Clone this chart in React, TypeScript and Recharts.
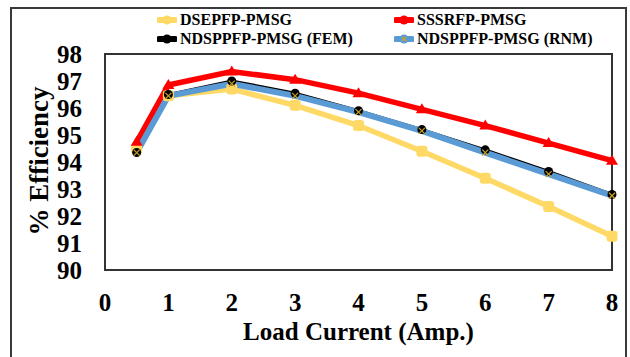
import { LineChart, Line, XAxis, YAxis, ReferenceArea } from 'recharts'

const loadCurrent = [0.5, 1, 2, 3, 4, 5, 6, 7, 8]
const dsepfp = [94.5, 96.45, 96.7, 96.1, 95.35, 94.4, 93.4, 92.35, 91.25]
const sssrfp = [94.75, 96.85, 97.35, 97.05, 96.55, 95.95, 95.35, 94.7, 94.05]
const ndsFem = [94.35, 96.5, 97.0, 96.55, 95.9, 95.2, 94.45, 93.65, 92.8]
const ndsRnm = [94.35, 96.45, 96.9, 96.45, 95.85, 95.15, 94.35, 93.55, 92.75]
const xTicks = [0, 1, 2, 3, 4, 5, 6, 7, 8]
const yTicks = [90, 91, 92, 93, 94, 95, 96, 97, 98]

const data = loadCurrent.map((x, i) => ({ x, a: dsepfp[i], b: sssrfp[i], c: ndsFem[i], d: ndsRnm[i] }))

const FONT = 'Liberation Serif'
const YEL = '#FFD966'
const RED = '#FF0000'
const BLU = '#5B9BD5'

type DotP = { cx?: number; cy?: number; index?: number }

const Square = ({ cx, cy, index }: DotP) =>
  cx == null || cy == null ? null : <rect key={index} x={cx - 5.5} y={cy - 5.5} width={11} height={11} rx={3} fill={YEL} />
const Tri = ({ cx, cy, index }: DotP) =>
  cx == null || cy == null ? null : <polygon key={index} points={`${cx},${cy - 6} ${cx + 6},${cy + 4} ${cx - 6},${cy + 4}`} fill={RED} />
const Circ = ({ cx, cy, index }: DotP) =>
  cx == null || cy == null ? null : <circle key={index} cx={cx} cy={cy} r={4.5} fill="#000" />
const Cross = ({ cx, cy, index }: DotP) =>
  cx == null || cy == null ? null : (
    <g key={index} stroke="#C9A227" strokeWidth={1.2}>
      <line x1={cx - 3} y1={cy - 3} x2={cx + 3} y2={cy + 3} />
      <line x1={cx - 3} y1={cy + 3} x2={cx + 3} y2={cy - 3} />
    </g>
  )

const items = [
  { name: 'DSEPFP-PMSG', color: YEL, x: 157, y: 20 },
  { name: 'SSSRFP-PMSG', color: RED, x: 394, y: 20 },
  { name: 'NDSPPFP-PMSG (FEM)', color: '#000', x: 157, y: 39 },
  { name: 'NDSPPFP-PMSG (RNM)', color: BLU, x: 394, y: 39 },
]

function Keys() {
  return (
    <>
      {items.map((it, i) => (
        <div key={i} style={{ position: 'absolute', left: it.x, top: it.y - 10, height: 20, display: 'flex', alignItems: 'center', fontFamily: FONT, fontWeight: 700, fontSize: 16, color: '#000', whiteSpace: 'nowrap' }}>
          <svg width={20} height={12} style={{ marginRight: 3 }}>
            <line x1={2} y1={6} x2={18} y2={6} stroke={it.color} strokeWidth={6} strokeLinecap="round" />
            <circle cx={10} cy={6} r={4.5} fill={it.color} />
            {i === 3 && <g stroke="#C9A227" strokeWidth={1.2}><line x1={8} y1={4} x2={12} y2={8} /><line x1={8} y1={8} x2={12} y2={4} /></g>}
          </svg>
          {it.name}
        </div>
      ))}
    </>
  )
}

export default function App() {
  const tick = { fontFamily: FONT, fontWeight: 700, fontSize: 25, fill: '#000' }
  return (
    <div style={{ position: 'absolute', left: 0, top: 0, width: 630, height: 357, background: '#fff', overflow: 'hidden', fontFamily: FONT }}>
      <div style={{ position: 'absolute', left: 10, top: 7, width: 613, height: 370, border: '2px solid #3a3a3a' }} />
      <LineChart width={630} height={357} data={data} margin={{ top: 54, right: 18, left: 0, bottom: 0 }}>
        <ReferenceArea x1={0} x2={8} y1={90} y2={98} fill="none" stroke="#333" strokeWidth={2} ifOverflow="visible" />
        <XAxis dataKey="x" type="number" domain={[0, 8]} ticks={xTicks} height={87} axisLine={false} tickLine={false}
          tickSize={0} tickMargin={23} tick={tick} interval={0}
          label={{ value: 'Load Current (Amp.)', position: 'insideBottom', offset: 17, style: { fontFamily: FONT, fontWeight: 700, fontSize: 25, fill: '#000' } }} />
        <YAxis type="number" domain={[90, 98]} ticks={yTicks} width={105} axisLine={false} tickLine={false}
          tickSize={0} tickMargin={23} tick={tick} interval={0} />
        <Line dataKey="a" name="DSEPFP-PMSG" stroke={YEL} strokeWidth={5.5} dot={Square} isAnimationActive={false} />
        <Line dataKey="b" name="SSSRFP-PMSG" stroke={RED} strokeWidth={5.5} dot={Tri} isAnimationActive={false} />
        <Line dataKey="c" name="NDSPPFP-PMSG (FEM)" stroke="#000" strokeWidth={3} dot={Circ} isAnimationActive={false} />
        <Line dataKey="d" name="NDSPPFP-PMSG (RNM)" stroke={BLU} strokeWidth={6} dot={Cross} isAnimationActive={false} />
      </LineChart>
      <Keys />
      <div style={{ position: 'absolute', left: 39, top: 161, transform: 'translate(-50%, -50%) rotate(-90deg)', fontFamily: FONT, fontWeight: 700, fontSize: 27, whiteSpace: 'nowrap', color: '#000' }}>
        % Efficiency
      </div>
    </div>
  )
}
